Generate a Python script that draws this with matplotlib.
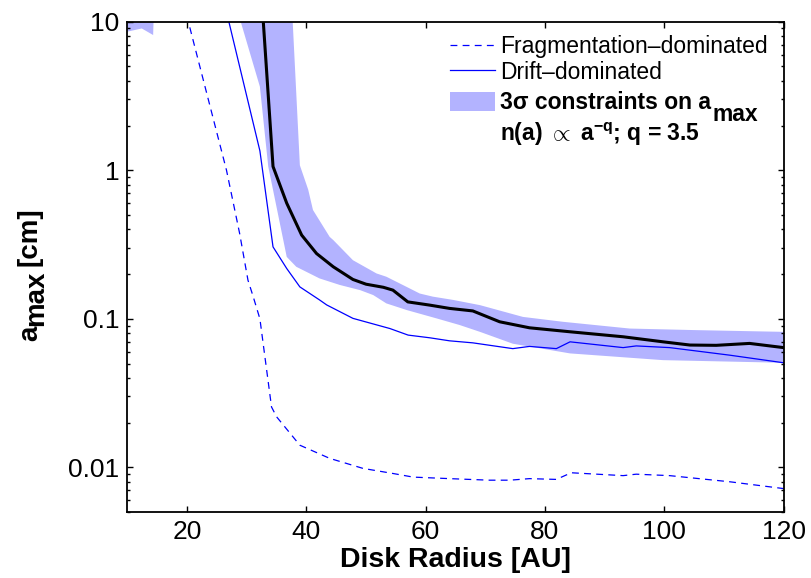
import numpy as np
import matplotlib
matplotlib.use('Agg')
import matplotlib.pyplot as plt
from matplotlib.lines import Line2D
from matplotlib.patches import Patch
from matplotlib.ticker import FixedLocator, FixedFormatter, LogLocator, NullFormatter

plt.rcParams['font.family'] = ['Liberation Sans', 'DejaVu Sans']
plt.rcParams['mathtext.fontset'] = 'custom'
plt.rcParams['mathtext.rm'] = 'Liberation Sans'
plt.rcParams['mathtext.it'] = 'Liberation Sans:italic'
plt.rcParams['mathtext.bf'] = 'Liberation Sans:bold'

# fragmentation-limited maximum grain size [cm] vs radius [AU]
frag_r = [20.0, 20.2, 26.6, 28.8, 30.2, 31.1, 32.2, 34.15, 35.0, 38.9, 43.9, 49.5,
          54.5, 57.9, 64.0, 70.7, 74.1, 77.4, 81.9, 84.4, 93.1, 95.3, 100.9, 111.0, 120.0]
frag_a = [11.0, 10.0, 1.0, 0.376, 0.182, 0.14, 0.1, 0.0255, 0.0219, 0.0141, 0.0115, 0.00984,
          0.0091, 0.0086, 0.0084, 0.0082, 0.0082, 0.0084, 0.0083, 0.0092, 0.0088, 0.0090,
          0.0088, 0.0080, 0.0072]

# drift-limited maximum grain size
drift_r = [26.7, 32.2, 34.4, 36.7, 38.9, 42.2, 43.4, 47.8, 54.0, 57.05, 60.7, 64.0, 67.9,
           74.6, 77.4, 81.9, 84.2, 93.1, 95.3, 100.9, 111.0, 120.0]
drift_a = [11.2, 1.35, 0.305, 0.218, 0.164, 0.134, 0.124, 0.1007, 0.086, 0.0777, 0.0745,
           0.0711, 0.0689, 0.063, 0.0652, 0.063, 0.070, 0.064, 0.0657, 0.064, 0.0569, 0.0506]

# best-fit a_max profile
fit_r = [32.7, 34.4, 36.7, 39.2, 41.7, 44.5, 47.8, 50.0, 52.9, 54.5, 57.0, 60.7, 64.0,
         67.9, 72.4, 77.4, 84.2, 93.1, 99.8, 104.3, 108.7, 114.3, 120.0]
fit_a = [11.0, 1.06, 0.6, 0.366, 0.275, 0.224, 0.184, 0.171, 0.163, 0.156, 0.13, 0.1236,
         0.1175, 0.113, 0.0955, 0.087, 0.0818, 0.0757, 0.070, 0.0666, 0.0663, 0.0683, 0.064]

# 3-sigma band edges
band_hi_r = [10.0, 37.6, 38.9, 40.3, 41.1, 43.9, 44.5, 47.8, 51.75, 53.4, 56.8, 59.0, 61.2,
             64.6, 69.1, 76.3, 83.0, 94.2, 105.4, 120.0]
band_hi_a = [30.0, 12.0, 1.08, 0.74, 0.54, 0.356, 0.339, 0.248, 0.202, 0.192, 0.164, 0.148,
             0.141, 0.134, 0.1236, 0.103, 0.0955, 0.086, 0.0839, 0.0817]
band_lo_r = [10.0, 12.4, 14.3, 14.6, 28.4, 32.2, 33.6, 36.7, 38.3, 42.2, 45.6, 49.0, 51.2,
             53.4, 56.8, 61.8, 65.7, 69.1, 74.6, 84.2, 99.8, 120.0]
band_lo_a = [8.57, 9.0, 8.13, 20.0, 12.0, 3.65, 1.06, 0.261, 0.224, 0.187, 0.169, 0.156,
             0.1445, 0.127, 0.1146, 0.1007, 0.0908, 0.0817, 0.068, 0.0585, 0.0527, 0.0506]

band_color = '#b3b3ff'
dash = (5.5, 4.2)

fig = plt.figure(figsize=(8.12, 5.78), dpi=100)
ax = fig.add_axes([0.157, 0.114, 0.808, 0.8485])

poly_r = np.concatenate([band_hi_r, band_lo_r[::-1]])
poly_a = np.concatenate([band_hi_a, band_lo_a[::-1]])
ax.fill(poly_r, poly_a, color=band_color, lw=0, zorder=1)

ax.plot(frag_r, frag_a, color='blue', lw=0.9, dashes=dash, zorder=2)
ax.plot(drift_r, drift_a, color='blue', lw=0.9, zorder=2)
ax.plot(fit_r, fit_a, color='black', lw=2.2, zorder=3)

ax.set_yscale('log')
ax.set_xlim(10, 120)
ax.set_ylim(0.005, 10)

ax.xaxis.set_major_locator(FixedLocator([20, 40, 60, 80, 100, 120]))
ax.yaxis.set_major_locator(FixedLocator([0.01, 0.1, 1, 10]))
ax.yaxis.set_major_formatter(FixedFormatter(['0.01', '0.1', '1', '10']))
ax.yaxis.set_minor_locator(LogLocator(base=10, subs=np.arange(2, 10)))
ax.yaxis.set_minor_formatter(NullFormatter())

ax.tick_params(which='both', direction='in', top=True, right=True, labelsize=19, width=1.0)
ax.tick_params(which='major', length=4.5, pad=6)
ax.tick_params(which='minor', length=2.5)
for sp in ax.spines.values():
    sp.set_linewidth(1.3)

ax.set_xlabel('Disk Radius [AU]', fontsize=20.5, fontweight='bold', labelpad=1.5)

# y label: a with a full-size lowered "max", then the unit
lab = dict(fontsize=20, fontweight='bold', rotation=90, rotation_mode='anchor',
           ha='left', va='baseline')
ya = ax.text(-0.138, 0.348, 'a', transform=ax.transAxes, **lab)
ymax = ax.annotate('max', xy=(-0.138, 1), xycoords=('axes fraction', ya),
                   xytext=(4.8, 0), textcoords='offset points', annotation_clip=False, **lab)
ax.annotate('[cm]', xy=(-0.138, 1), xycoords=('axes fraction', ymax),
            xytext=(0, 3.5), textcoords='offset points', annotation_clip=False, **lab)

# legend: the two model curves, then the band entry a bit further down
leg_kw = dict(frameon=False, fontsize=16.5, handlelength=1.95, handleheight=0.95,
              handletextpad=0.25, labelspacing=0.12, borderpad=0.0, borderaxespad=0.0,
              loc='upper left')
leg = ax.legend([Line2D([], [], color='blue', lw=0.9, dashes=dash),
                 Line2D([], [], color='blue', lw=0.9)],
                ['Fragmentation\u2013dominated', 'Drift\u2013dominated'],
                bbox_to_anchor=(0.4915, 0.972), **leg_kw)
ax.add_artist(leg)
leg2 = ax.legend([Patch(facecolor=band_color, edgecolor='none')],
                 ['3\u03c3 constraints on a'],
                 bbox_to_anchor=(0.4915, 0.858), **leg_kw)
band_txt = leg2.get_texts()[0]
band_txt.set_fontweight('bold')

legtxt = dict(fontsize=16.5, fontweight='bold', annotation_clip=False, zorder=6)
ax.annotate('max', xy=(1, 0), xycoords=band_txt, xytext=(0.5, -8.6),
            textcoords='offset points', ha='left', va='bottom', **legtxt)
ax.annotate(r'n(a) $\propto$ a$^{\mathbf{-q}}$; q = 3.5', xy=(0, 0), xycoords=band_txt,
            xytext=(0, -4.5), textcoords='offset points', ha='left', va='top', **legtxt)

fig.savefig('out.png', dpi=100)
